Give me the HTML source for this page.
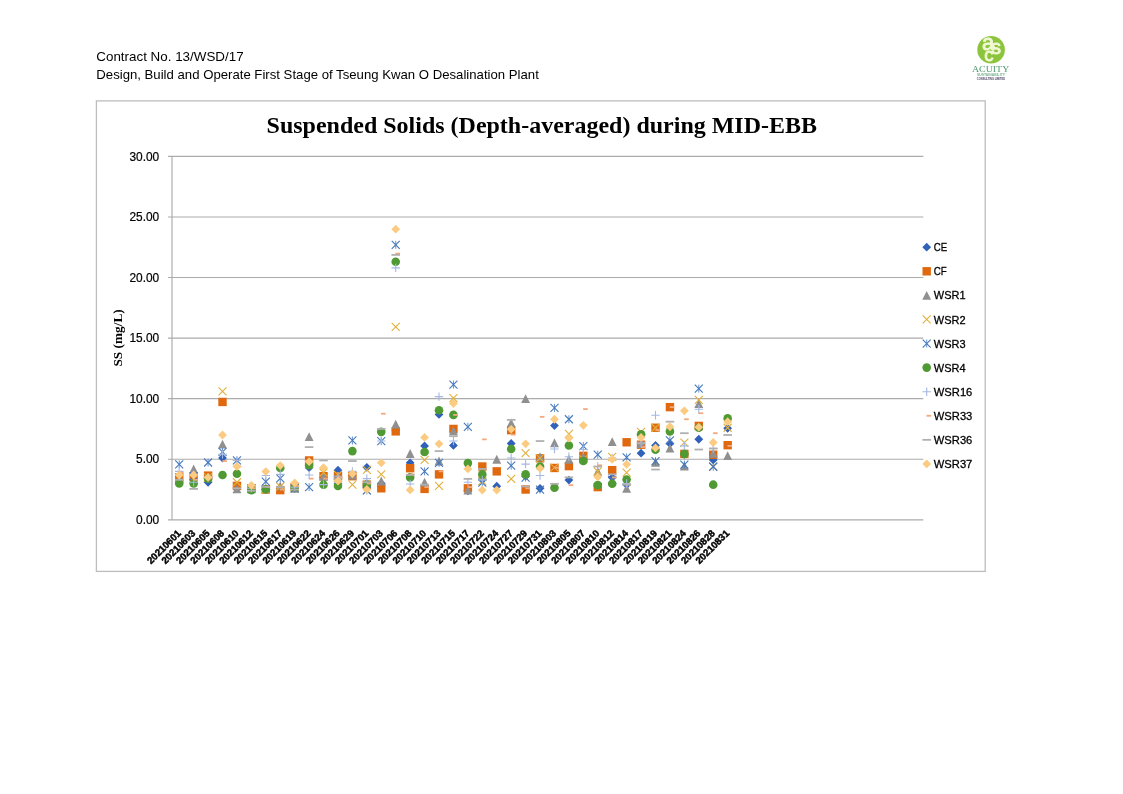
<!DOCTYPE html>
<html lang="en"><head><meta charset="utf-8"><title>Suspended Solids (Depth-averaged) during MID-EBB</title>
<style>
html,body{margin:0;padding:0;background:#fff;}
body{width:1123px;height:794px;overflow:hidden;position:relative;font-family:"Liberation Sans",sans-serif;color:#000;}
svg{position:absolute;left:0;top:0;display:block;}
.hdr{font-family:"Liberation Sans",sans-serif;font-size:12.9px;fill:#000;}
.title{font-family:"Liberation Serif",serif;font-weight:bold;font-size:24px;fill:#000;}
.ylab{font-family:"Liberation Sans",sans-serif;font-size:11.9px;fill:#000;stroke:#000;stroke-width:0.2px;text-anchor:end;}
.xlab{font-family:"Liberation Sans",sans-serif;font-size:9.7px;font-weight:bold;fill:#000;stroke:#000;stroke-width:0.45px;text-anchor:end;}
.ytitle{font-family:"Liberation Serif",serif;font-weight:bold;font-size:13.3px;fill:#000;text-anchor:middle;}
.leg{font-family:"Liberation Sans",sans-serif;font-size:11.8px;fill:#000;stroke:#000;stroke-width:0.3px;}
.logo1{font-family:"Liberation Serif",serif;font-size:9.2px;fill:#4f9a6a;text-anchor:middle;}
.logo2{font-family:"Liberation Sans",sans-serif;font-size:2.8px;font-weight:bold;text-anchor:middle;}
.logoc{font-family:"Liberation Sans",sans-serif;fill:#f1f8d4;stroke:#f1f8d4;stroke-width:0.9px;stroke-linejoin:round;text-anchor:middle;}
</style></head><body>
<svg width="1123" height="794" viewBox="0 0 1123 794">
<rect x="0" y="0" width="1123" height="794" fill="#ffffff"/>
<text class="hdr" x="96.3" y="60.8" textLength="147.3" lengthAdjust="spacingAndGlyphs">Contract No. 13/WSD/17</text>
<text class="hdr" x="96.3" y="79" textLength="442.5" lengthAdjust="spacingAndGlyphs">Design, Build and Operate First Stage of Tseung Kwan O Desalination Plant</text>
<g id="logo">
<circle cx="991.1" cy="49.7" r="13.8" fill="#8cc43c"/>
<text class="logoc" x="988" y="50.2" font-size="22">a</text>
<text class="logoc" x="996" y="54.3" font-size="19.5">s</text>
<text class="logoc" x="988.8" y="61.3" font-size="18.5">c</text>
<text class="logo1" x="990.6" y="72.3" textLength="37.4" lengthAdjust="spacingAndGlyphs">ACUITY</text>
<text class="logo2" x="991" y="75.7" textLength="28" lengthAdjust="spacingAndGlyphs" fill="#7ab394">SUSTAINABILITY</text>
<text class="logo2" x="991" y="79.5" textLength="28.4" lengthAdjust="spacingAndGlyphs" fill="#4d4566">CONSULTING LIMITED</text>
</g>
<rect x="96.4" y="100.9" width="888.8" height="470.5" fill="#fff" stroke="#bdbdbd" stroke-width="1.3"/>
<text class="title" x="266.6" y="132.6" textLength="550.4" lengthAdjust="spacingAndGlyphs">Suspended Solids (Depth-averaged) during MID-EBB</text>
<g stroke="#ababab" stroke-width="1.15" fill="none">
<path d="M168 519.8H923.3"/><path d="M168 459.23H923.3"/><path d="M168 398.67H923.3"/><path d="M168 338.1H923.3"/><path d="M168 277.54H923.3"/><path d="M168 216.97H923.3"/><path d="M168 156.41H923.3"/><path d="M172 156.41V519.8"/>
</g>
<g class="ylab"><text x="159.2" y="524">0.00</text><text x="159.2" y="463.43">5.00</text><text x="159.2" y="402.87">10.00</text><text x="159.2" y="342.3">15.00</text><text x="159.2" y="281.74">20.00</text><text x="159.2" y="221.17">25.00</text><text x="159.2" y="160.61">30.00</text></g>
<text class="ytitle" transform="translate(121.6 337.9) rotate(-90)">SS (mg/L)</text>
<g class="xlab"><text transform="translate(181.52 534) rotate(-45)">20210601</text><text transform="translate(195.95 534) rotate(-45)">20210603</text><text transform="translate(210.38 534) rotate(-45)">20210605</text><text transform="translate(224.81 534) rotate(-45)">20210608</text><text transform="translate(239.25 534) rotate(-45)">20210610</text><text transform="translate(253.68 534) rotate(-45)">20210612</text><text transform="translate(268.11 534) rotate(-45)">20210615</text><text transform="translate(282.55 534) rotate(-45)">20210617</text><text transform="translate(296.98 534) rotate(-45)">20210619</text><text transform="translate(311.41 534) rotate(-45)">20210622</text><text transform="translate(325.84 534) rotate(-45)">20210624</text><text transform="translate(340.28 534) rotate(-45)">20210626</text><text transform="translate(354.71 534) rotate(-45)">20210629</text><text transform="translate(369.14 534) rotate(-45)">20210701</text><text transform="translate(383.57 534) rotate(-45)">20210703</text><text transform="translate(398.01 534) rotate(-45)">20210706</text><text transform="translate(412.44 534) rotate(-45)">20210708</text><text transform="translate(426.87 534) rotate(-45)">20210710</text><text transform="translate(441.3 534) rotate(-45)">20210713</text><text transform="translate(455.74 534) rotate(-45)">20210715</text><text transform="translate(470.17 534) rotate(-45)">20210717</text><text transform="translate(484.6 534) rotate(-45)">20210722</text><text transform="translate(499.04 534) rotate(-45)">20210724</text><text transform="translate(513.47 534) rotate(-45)">20210727</text><text transform="translate(527.9 534) rotate(-45)">20210729</text><text transform="translate(542.33 534) rotate(-45)">20210731</text><text transform="translate(556.77 534) rotate(-45)">20210803</text><text transform="translate(571.2 534) rotate(-45)">20210805</text><text transform="translate(585.63 534) rotate(-45)">20210807</text><text transform="translate(600.06 534) rotate(-45)">20210810</text><text transform="translate(614.5 534) rotate(-45)">20210812</text><text transform="translate(628.93 534) rotate(-45)">20210814</text><text transform="translate(643.36 534) rotate(-45)">20210817</text><text transform="translate(657.8 534) rotate(-45)">20210819</text><text transform="translate(672.23 534) rotate(-45)">20210821</text><text transform="translate(686.66 534) rotate(-45)">20210824</text><text transform="translate(701.09 534) rotate(-45)">20210826</text><text transform="translate(715.53 534) rotate(-45)">20210828</text><text transform="translate(729.96 534) rotate(-45)">20210831</text></g>
<g id="pts">
<g><path d="M179.22 476.64L183.62 481.04L179.22 485.44L174.82 481.04Z" fill="#3161B8"/><path d="M193.65 475.43L198.05 479.83L193.65 484.23L189.25 479.83Z" fill="#3161B8"/><path d="M208.08 477.85L212.48 482.25L208.08 486.65L203.68 482.25Z" fill="#3161B8"/><path d="M222.51 453.62L226.91 458.02L222.51 462.42L218.11 458.02Z" fill="#3161B8"/><path d="M236.95 482.69L241.35 487.09L236.95 491.49L232.55 487.09Z" fill="#3161B8"/><path d="M251.38 485.12L255.78 489.52L251.38 493.92L246.98 489.52Z" fill="#3161B8"/><path d="M265.81 485.12L270.21 489.52L265.81 493.92L261.41 489.52Z" fill="#3161B8"/><path d="M280.25 485.12L284.65 489.52L280.25 493.92L275.85 489.52Z" fill="#3161B8"/><path d="M294.68 483.91L299.08 488.31L294.68 492.71L290.28 488.31Z" fill="#3161B8"/><path d="M309.11 463.31L313.51 467.71L309.11 472.11L304.71 467.71Z" fill="#3161B8"/><path d="M323.54 473L327.94 477.4L323.54 481.8L319.14 477.4Z" fill="#3161B8"/><path d="M337.98 465.74L342.38 470.14L337.98 474.54L333.58 470.14Z" fill="#3161B8"/><path d="M352.41 470.58L356.81 474.98L352.41 479.38L348.01 474.98Z" fill="#3161B8"/><path d="M366.84 462.95L371.24 467.35L366.84 471.75L362.44 467.35Z" fill="#3161B8"/><path d="M381.27 479.06L385.67 483.46L381.27 487.86L376.87 483.46Z" fill="#3161B8"/><path d="M395.71 425.76L400.11 430.16L395.71 434.56L391.31 430.16Z" fill="#3161B8"/><path d="M410.14 458.47L414.54 462.87L410.14 467.27L405.74 462.87Z" fill="#3161B8"/><path d="M424.57 441.51L428.97 445.91L424.57 450.31L420.17 445.91Z" fill="#3161B8"/><path d="M439 410.02L443.4 414.42L439 418.82L434.6 414.42Z" fill="#3161B8"/><path d="M453.44 441.03L457.84 445.43L453.44 449.83L449.04 445.43Z" fill="#3161B8"/><path d="M467.87 486.33L472.27 490.73L467.87 495.13L463.47 490.73Z" fill="#3161B8"/><path d="M482.3 475.43L486.7 479.83L482.3 484.23L477.9 479.83Z" fill="#3161B8"/><path d="M496.74 481.85L501.14 486.25L496.74 490.65L492.34 486.25Z" fill="#3161B8"/><path d="M511.17 439.09L515.57 443.49L511.17 447.89L506.77 443.49Z" fill="#3161B8"/><path d="M525.6 471.79L530 476.19L525.6 480.59L521.2 476.19Z" fill="#3161B8"/><path d="M540.03 483.91L544.43 488.31L540.03 492.71L535.63 488.31Z" fill="#3161B8"/><path d="M554.47 421.16L558.87 425.56L554.47 429.96L550.07 425.56Z" fill="#3161B8"/><path d="M568.9 475.67L573.3 480.07L568.9 484.47L564.5 480.07Z" fill="#3161B8"/><path d="M583.33 454.83L587.73 459.23L583.33 463.63L578.93 459.23Z" fill="#3161B8"/><path d="M597.76 481.48L602.16 485.88L597.76 490.28L593.36 485.88Z" fill="#3161B8"/><path d="M612.2 473.13L616.6 477.53L612.2 481.93L607.8 477.53Z" fill="#3161B8"/><path d="M626.63 480.27L631.03 484.67L626.63 489.07L622.23 484.67Z" fill="#3161B8"/><path d="M641.06 448.78L645.46 453.18L641.06 457.58L636.66 453.18Z" fill="#3161B8"/><path d="M655.5 441.03L659.9 445.43L655.5 449.83L651.1 445.43Z" fill="#3161B8"/><path d="M669.93 439.09L674.33 443.49L669.93 447.89L665.53 443.49Z" fill="#3161B8"/><path d="M684.36 449.99L688.76 454.39L684.36 458.79L679.96 454.39Z" fill="#3161B8"/><path d="M698.79 434.85L703.19 439.25L698.79 443.65L694.39 439.25Z" fill="#3161B8"/><path d="M713.23 455.56L717.63 459.96L713.23 464.36L708.83 459.96Z" fill="#3161B8"/><path d="M727.66 423.83L732.06 428.23L727.66 432.63L723.26 428.23Z" fill="#3161B8"/></g>
<g><rect x="175.02" y="473.2" width="8.4" height="8.4" fill="#E0690F"/><rect x="189.45" y="472.6" width="8.4" height="8.4" fill="#E0690F"/><rect x="203.88" y="471.39" width="8.4" height="8.4" fill="#E0690F"/><rect x="218.31" y="397.74" width="8.4" height="8.4" fill="#E0690F"/><rect x="232.75" y="481.68" width="8.4" height="8.4" fill="#E0690F"/><rect x="247.18" y="484.11" width="8.4" height="8.4" fill="#E0690F"/><rect x="261.61" y="485.32" width="8.4" height="8.4" fill="#E0690F"/><rect x="276.05" y="485.92" width="8.4" height="8.4" fill="#E0690F"/><rect x="290.48" y="482.89" width="8.4" height="8.4" fill="#E0690F"/><rect x="304.91" y="456.25" width="8.4" height="8.4" fill="#E0690F"/><rect x="319.34" y="471.99" width="8.4" height="8.4" fill="#E0690F"/><rect x="333.78" y="471.99" width="8.4" height="8.4" fill="#E0690F"/><rect x="348.21" y="471.99" width="8.4" height="8.4" fill="#E0690F"/><rect x="362.64" y="480.47" width="8.4" height="8.4" fill="#E0690F"/><rect x="377.07" y="484.11" width="8.4" height="8.4" fill="#E0690F"/><rect x="391.51" y="427.18" width="8.4" height="8.4" fill="#E0690F"/><rect x="405.94" y="464" width="8.4" height="8.4" fill="#E0690F"/><rect x="420.37" y="484.71" width="8.4" height="8.4" fill="#E0690F"/><rect x="434.8" y="470.18" width="8.4" height="8.4" fill="#E0690F"/><rect x="449.24" y="424.75" width="8.4" height="8.4" fill="#E0690F"/><rect x="463.67" y="484.11" width="8.4" height="8.4" fill="#E0690F"/><rect x="478.1" y="462.3" width="8.4" height="8.4" fill="#E0690F"/><rect x="492.54" y="467.15" width="8.4" height="8.4" fill="#E0690F"/><rect x="506.97" y="425.96" width="8.4" height="8.4" fill="#E0690F"/><rect x="521.4" y="485.32" width="8.4" height="8.4" fill="#E0690F"/><rect x="535.83" y="454.07" width="8.4" height="8.4" fill="#E0690F"/><rect x="550.27" y="463.76" width="8.4" height="8.4" fill="#E0690F"/><rect x="564.7" y="461.94" width="8.4" height="8.4" fill="#E0690F"/><rect x="579.13" y="451.64" width="8.4" height="8.4" fill="#E0690F"/><rect x="593.56" y="482.89" width="8.4" height="8.4" fill="#E0690F"/><rect x="608" y="465.94" width="8.4" height="8.4" fill="#E0690F"/><rect x="622.43" y="438.08" width="8.4" height="8.4" fill="#E0690F"/><rect x="636.86" y="440.5" width="8.4" height="8.4" fill="#E0690F"/><rect x="651.3" y="423.54" width="8.4" height="8.4" fill="#E0690F"/><rect x="665.73" y="402.95" width="8.4" height="8.4" fill="#E0690F"/><rect x="680.16" y="449.71" width="8.4" height="8.4" fill="#E0690F"/><rect x="694.59" y="421.72" width="8.4" height="8.4" fill="#E0690F"/><rect x="709.03" y="450.55" width="8.4" height="8.4" fill="#E0690F"/><rect x="723.46" y="440.98" width="8.4" height="8.4" fill="#E0690F"/></g>
<g><path d="M179.22 474.17L183.67 483.07L174.77 483.07Z" fill="#909090"/><path d="M193.65 464.48L198.1 473.38L189.2 473.38Z" fill="#909090"/><path d="M208.08 472.95L212.53 481.85L203.63 481.85Z" fill="#909090"/><path d="M222.51 439.64L226.96 448.54L218.06 448.54Z" fill="#909090"/><path d="M236.95 484.46L241.4 493.36L232.5 493.36Z" fill="#909090"/><path d="M251.38 484.46L255.83 493.36L246.93 493.36Z" fill="#909090"/><path d="M265.81 484.46L270.26 493.36L261.36 493.36Z" fill="#909090"/><path d="M280.25 481.43L284.7 490.33L275.8 490.33Z" fill="#909090"/><path d="M294.68 483.86L299.13 492.76L290.23 492.76Z" fill="#909090"/><path d="M309.11 432.13L313.56 441.03L304.66 441.03Z" fill="#909090"/><path d="M323.54 471.74L327.99 480.64L319.09 480.64Z" fill="#909090"/><path d="M337.98 472.95L342.43 481.85L333.53 481.85Z" fill="#909090"/><path d="M352.41 470.53L356.86 479.43L347.96 479.43Z" fill="#909090"/><path d="M366.84 479.01L371.29 487.91L362.39 487.91Z" fill="#909090"/><path d="M381.27 476.59L385.72 485.49L376.82 485.49Z" fill="#909090"/><path d="M395.71 419.66L400.16 428.56L391.26 428.56Z" fill="#909090"/><path d="M410.14 449.09L414.59 457.99L405.69 457.99Z" fill="#909090"/><path d="M424.57 477.8L429.02 486.7L420.12 486.7Z" fill="#909090"/><path d="M439 456.6L443.45 465.5L434.55 465.5Z" fill="#909090"/><path d="M453.44 426.32L457.89 435.22L448.99 435.22Z" fill="#909090"/><path d="M467.87 485.67L472.32 494.57L463.42 494.57Z" fill="#909090"/><path d="M482.3 471.74L486.75 480.64L477.85 480.64Z" fill="#909090"/><path d="M496.74 454.78L501.19 463.68L492.29 463.68Z" fill="#909090"/><path d="M511.17 418.45L515.62 427.35L506.72 427.35Z" fill="#909090"/><path d="M525.6 394.22L530.05 403.12L521.15 403.12Z" fill="#909090"/><path d="M540.03 452.36L544.48 461.26L535.58 461.26Z" fill="#909090"/><path d="M554.47 438.31L558.92 447.21L550.02 447.21Z" fill="#909090"/><path d="M568.9 454.78L573.35 463.68L564.45 463.68Z" fill="#909090"/><path d="M583.33 452.36L587.78 461.26L578.88 461.26Z" fill="#909090"/><path d="M597.76 466.9L602.21 475.8L593.31 475.8Z" fill="#909090"/><path d="M612.2 437.22L616.65 446.12L607.75 446.12Z" fill="#909090"/><path d="M626.63 483.86L631.08 492.76L622.18 492.76Z" fill="#909090"/><path d="M641.06 439.04L645.51 447.94L636.61 447.94Z" fill="#909090"/><path d="M655.5 457.81L659.95 466.71L651.05 466.71Z" fill="#909090"/><path d="M669.93 443.64L674.38 452.54L665.48 452.54Z" fill="#909090"/><path d="M684.36 461.57L688.81 470.47L679.91 470.47Z" fill="#909090"/><path d="M698.79 399.07L703.24 407.97L694.34 407.97Z" fill="#909090"/><path d="M713.23 448.73L717.68 457.63L708.78 457.63Z" fill="#909090"/><path d="M727.66 451.15L732.11 460.05L723.21 460.05Z" fill="#909090"/></g>
<g><path d="M175.22 474.62L183.22 482.62M175.22 482.62L183.22 474.62" stroke="#E2B03A" stroke-width="1.1" fill="none"/><path d="M189.65 474.62L197.65 482.62M189.65 482.62L197.65 474.62" stroke="#E2B03A" stroke-width="1.1" fill="none"/><path d="M204.08 473.4L212.08 481.4M204.08 481.4L212.08 473.4" stroke="#E2B03A" stroke-width="1.1" fill="none"/><path d="M218.51 387.4L226.51 395.4M218.51 395.4L226.51 387.4" stroke="#E2B03A" stroke-width="1.1" fill="none"/><path d="M232.95 478.25L240.95 486.25M232.95 486.25L240.95 478.25" stroke="#E2B03A" stroke-width="1.1" fill="none"/><path d="M247.38 484.31L255.38 492.31M247.38 492.31L255.38 484.31" stroke="#E2B03A" stroke-width="1.1" fill="none"/><path d="M261.81 485.52L269.81 493.52M261.81 493.52L269.81 485.52" stroke="#E2B03A" stroke-width="1.1" fill="none"/><path d="M276.25 482.49L284.25 490.49M276.25 490.49L284.25 482.49" stroke="#E2B03A" stroke-width="1.1" fill="none"/><path d="M290.68 483.09L298.68 491.09M290.68 491.09L298.68 483.09" stroke="#E2B03A" stroke-width="1.1" fill="none"/><path d="M305.11 460.08L313.11 468.08M305.11 468.08L313.11 460.08" stroke="#E2B03A" stroke-width="1.1" fill="none"/><path d="M319.54 468.56L327.54 476.56M319.54 476.56L327.54 468.56" stroke="#E2B03A" stroke-width="1.1" fill="none"/><path d="M333.98 470.98L341.98 478.98M333.98 478.98L341.98 470.98" stroke="#E2B03A" stroke-width="1.1" fill="none"/><path d="M348.41 480.67L356.41 488.67M348.41 488.67L356.41 480.67" stroke="#E2B03A" stroke-width="1.1" fill="none"/><path d="M362.84 465.89L370.84 473.89M362.84 473.89L370.84 465.89" stroke="#E2B03A" stroke-width="1.1" fill="none"/><path d="M377.27 470.38L385.27 478.38M377.27 478.38L385.27 470.38" stroke="#E2B03A" stroke-width="1.1" fill="none"/><path d="M391.71 322.96L399.71 330.96M391.71 330.96L399.71 322.96" stroke="#E2B03A" stroke-width="1.1" fill="none"/><path d="M420.57 455.84L428.57 463.84M420.57 463.84L428.57 455.84" stroke="#E2B03A" stroke-width="1.1" fill="none"/><path d="M435 481.88L443 489.88M435 489.88L443 481.88" stroke="#E2B03A" stroke-width="1.1" fill="none"/><path d="M449.44 394.06L457.44 402.06M449.44 402.06L457.44 394.06" stroke="#E2B03A" stroke-width="1.1" fill="none"/><path d="M478.3 477.04L486.3 485.04M478.3 485.04L486.3 477.04" stroke="#E2B03A" stroke-width="1.1" fill="none"/><path d="M507.17 474.98L515.17 482.98M507.17 482.98L515.17 474.98" stroke="#E2B03A" stroke-width="1.1" fill="none"/><path d="M521.6 449.18L529.6 457.18M521.6 457.18L529.6 449.18" stroke="#E2B03A" stroke-width="1.1" fill="none"/><path d="M536.03 454.02L544.03 462.02M536.03 462.02L544.03 454.02" stroke="#E2B03A" stroke-width="1.1" fill="none"/><path d="M550.47 463.71L558.47 471.71M550.47 471.71L558.47 463.71" stroke="#E2B03A" stroke-width="1.1" fill="none"/><path d="M564.9 429.8L572.9 437.8M564.9 437.8L572.9 429.8" stroke="#E2B03A" stroke-width="1.1" fill="none"/><path d="M579.33 455.23L587.33 463.23M579.33 463.23L587.33 455.23" stroke="#E2B03A" stroke-width="1.1" fill="none"/><path d="M593.76 467.35L601.76 475.35M593.76 475.35L601.76 467.35" stroke="#E2B03A" stroke-width="1.1" fill="none"/><path d="M608.2 452.81L616.2 460.81M608.2 460.81L616.2 452.81" stroke="#E2B03A" stroke-width="1.1" fill="none"/><path d="M622.63 468.56L630.63 476.56M622.63 476.56L630.63 468.56" stroke="#E2B03A" stroke-width="1.1" fill="none"/><path d="M637.06 427.98L645.06 435.98M637.06 435.98L645.06 427.98" stroke="#E2B03A" stroke-width="1.1" fill="none"/><path d="M651.5 423.74L659.5 431.74M651.5 431.74L659.5 423.74" stroke="#E2B03A" stroke-width="1.1" fill="none"/><path d="M680.36 438.52L688.36 446.52M680.36 446.52L688.36 438.52" stroke="#E2B03A" stroke-width="1.1" fill="none"/><path d="M694.79 395.88L702.79 403.88M694.79 403.88L702.79 395.88" stroke="#E2B03A" stroke-width="1.1" fill="none"/><path d="M709.23 462.5L717.23 470.5M709.23 470.5L717.23 462.5" stroke="#E2B03A" stroke-width="1.1" fill="none"/><path d="M723.66 423.74L731.66 431.74M723.66 431.74L731.66 423.74" stroke="#E2B03A" stroke-width="1.1" fill="none"/></g>
<g><path d="M175.22 460.32L183.22 468.32M175.22 468.32L183.22 460.32" stroke="#4478BE" stroke-width="1.1" fill="none"/><path d="M179.22 460.32V468.32" stroke="#4478BE" stroke-width="0.8" fill="none"/><path d="M189.65 472.19L197.65 480.19M189.65 480.19L197.65 472.19" stroke="#4478BE" stroke-width="1.1" fill="none"/><path d="M193.65 472.19V480.19" stroke="#4478BE" stroke-width="0.8" fill="none"/><path d="M204.08 458.51L212.08 466.51M204.08 466.51L212.08 458.51" stroke="#4478BE" stroke-width="1.1" fill="none"/><path d="M208.08 458.51V466.51" stroke="#4478BE" stroke-width="0.8" fill="none"/><path d="M218.51 447.97L226.51 455.97M218.51 455.97L226.51 447.97" stroke="#4478BE" stroke-width="1.1" fill="none"/><path d="M222.51 447.97V455.97" stroke="#4478BE" stroke-width="0.8" fill="none"/><path d="M232.95 456.45L240.95 464.45M232.95 464.45L240.95 456.45" stroke="#4478BE" stroke-width="1.1" fill="none"/><path d="M236.95 456.45V464.45" stroke="#4478BE" stroke-width="0.8" fill="none"/><path d="M247.38 484.31L255.38 492.31M247.38 492.31L255.38 484.31" stroke="#4478BE" stroke-width="1.1" fill="none"/><path d="M251.38 484.31V492.31" stroke="#4478BE" stroke-width="0.8" fill="none"/><path d="M261.81 477.52L269.81 485.52M261.81 485.52L269.81 477.52" stroke="#4478BE" stroke-width="1.1" fill="none"/><path d="M265.81 477.52V485.52" stroke="#4478BE" stroke-width="0.8" fill="none"/><path d="M276.25 474.37L284.25 482.37M276.25 482.37L284.25 474.37" stroke="#4478BE" stroke-width="1.1" fill="none"/><path d="M280.25 474.37V482.37" stroke="#4478BE" stroke-width="0.8" fill="none"/><path d="M290.68 484.31L298.68 492.31M290.68 492.31L298.68 484.31" stroke="#4478BE" stroke-width="1.1" fill="none"/><path d="M294.68 484.31V492.31" stroke="#4478BE" stroke-width="0.8" fill="none"/><path d="M305.11 483.09L313.11 491.09M305.11 491.09L313.11 483.09" stroke="#4478BE" stroke-width="1.1" fill="none"/><path d="M309.11 483.09V491.09" stroke="#4478BE" stroke-width="0.8" fill="none"/><path d="M333.98 475.83L341.98 483.83M333.98 483.83L341.98 475.83" stroke="#4478BE" stroke-width="1.1" fill="none"/><path d="M337.98 475.83V483.83" stroke="#4478BE" stroke-width="0.8" fill="none"/><path d="M348.41 436.46L356.41 444.46M348.41 444.46L356.41 436.46" stroke="#4478BE" stroke-width="1.1" fill="none"/><path d="M352.41 436.46V444.46" stroke="#4478BE" stroke-width="0.8" fill="none"/><path d="M362.84 486.49L370.84 494.49M362.84 494.49L370.84 486.49" stroke="#4478BE" stroke-width="1.1" fill="none"/><path d="M366.84 486.49V494.49" stroke="#4478BE" stroke-width="0.8" fill="none"/><path d="M377.27 437.07L385.27 445.07M377.27 445.07L385.27 437.07" stroke="#4478BE" stroke-width="1.1" fill="none"/><path d="M381.27 437.07V445.07" stroke="#4478BE" stroke-width="0.8" fill="none"/><path d="M391.71 240.83L399.71 248.83M391.71 248.83L399.71 240.83" stroke="#4478BE" stroke-width="1.1" fill="none"/><path d="M395.71 240.83V248.83" stroke="#4478BE" stroke-width="0.8" fill="none"/><path d="M420.57 467.35L428.57 475.35M420.57 475.35L428.57 467.35" stroke="#4478BE" stroke-width="1.1" fill="none"/><path d="M424.57 467.35V475.35" stroke="#4478BE" stroke-width="0.8" fill="none"/><path d="M435 458.87L443 466.87M435 466.87L443 458.87" stroke="#4478BE" stroke-width="1.1" fill="none"/><path d="M439 458.87V466.87" stroke="#4478BE" stroke-width="0.8" fill="none"/><path d="M449.44 380.62L457.44 388.62M449.44 388.62L457.44 380.62" stroke="#4478BE" stroke-width="1.1" fill="none"/><path d="M453.44 380.62V388.62" stroke="#4478BE" stroke-width="0.8" fill="none"/><path d="M463.87 422.77L471.87 430.77M463.87 430.77L471.87 422.77" stroke="#4478BE" stroke-width="1.1" fill="none"/><path d="M467.87 422.77V430.77" stroke="#4478BE" stroke-width="0.8" fill="none"/><path d="M478.3 478.61L486.3 486.61M478.3 486.61L486.3 478.61" stroke="#4478BE" stroke-width="1.1" fill="none"/><path d="M482.3 478.61V486.61" stroke="#4478BE" stroke-width="0.8" fill="none"/><path d="M507.17 461.65L515.17 469.65M507.17 469.65L515.17 461.65" stroke="#4478BE" stroke-width="1.1" fill="none"/><path d="M511.17 461.65V469.65" stroke="#4478BE" stroke-width="0.8" fill="none"/><path d="M521.6 473.53L529.6 481.53M521.6 481.53L529.6 473.53" stroke="#4478BE" stroke-width="1.1" fill="none"/><path d="M525.6 473.53V481.53" stroke="#4478BE" stroke-width="0.8" fill="none"/><path d="M536.03 485.52L544.03 493.52M536.03 493.52L544.03 485.52" stroke="#4478BE" stroke-width="1.1" fill="none"/><path d="M540.03 485.52V493.52" stroke="#4478BE" stroke-width="0.8" fill="none"/><path d="M550.47 403.88L558.47 411.88M550.47 411.88L558.47 403.88" stroke="#4478BE" stroke-width="1.1" fill="none"/><path d="M554.47 403.88V411.88" stroke="#4478BE" stroke-width="0.8" fill="none"/><path d="M564.9 415.26L572.9 423.26M564.9 423.26L572.9 415.26" stroke="#4478BE" stroke-width="1.1" fill="none"/><path d="M568.9 415.26V423.26" stroke="#4478BE" stroke-width="0.8" fill="none"/><path d="M579.33 442.15L587.33 450.15M579.33 450.15L587.33 442.15" stroke="#4478BE" stroke-width="1.1" fill="none"/><path d="M583.33 442.15V450.15" stroke="#4478BE" stroke-width="0.8" fill="none"/><path d="M593.76 450.63L601.76 458.63M593.76 458.63L601.76 450.63" stroke="#4478BE" stroke-width="1.1" fill="none"/><path d="M597.76 450.63V458.63" stroke="#4478BE" stroke-width="0.8" fill="none"/><path d="M608.2 475.83L616.2 483.83M608.2 483.83L616.2 475.83" stroke="#4478BE" stroke-width="1.1" fill="none"/><path d="M612.2 475.83V483.83" stroke="#4478BE" stroke-width="0.8" fill="none"/><path d="M622.63 453.42L630.63 461.42M622.63 461.42L630.63 453.42" stroke="#4478BE" stroke-width="1.1" fill="none"/><path d="M626.63 453.42V461.42" stroke="#4478BE" stroke-width="0.8" fill="none"/><path d="M651.5 457.05L659.5 465.05M651.5 465.05L659.5 457.05" stroke="#4478BE" stroke-width="1.1" fill="none"/><path d="M655.5 457.05V465.05" stroke="#4478BE" stroke-width="0.8" fill="none"/><path d="M665.93 436.34L673.93 444.34M665.93 444.34L673.93 436.34" stroke="#4478BE" stroke-width="1.1" fill="none"/><path d="M669.93 436.34V444.34" stroke="#4478BE" stroke-width="0.8" fill="none"/><path d="M680.36 460.56L688.36 468.56M680.36 468.56L688.36 460.56" stroke="#4478BE" stroke-width="1.1" fill="none"/><path d="M684.36 460.56V468.56" stroke="#4478BE" stroke-width="0.8" fill="none"/><path d="M694.79 384.62L702.79 392.62M694.79 392.62L702.79 384.62" stroke="#4478BE" stroke-width="1.1" fill="none"/><path d="M698.79 384.62V392.62" stroke="#4478BE" stroke-width="0.8" fill="none"/><path d="M709.23 462.75L717.23 470.75M709.23 470.75L717.23 462.75" stroke="#4478BE" stroke-width="1.1" fill="none"/><path d="M713.23 462.75V470.75" stroke="#4478BE" stroke-width="0.8" fill="none"/></g>
<g><circle cx="179.22" cy="483.46" r="4.3" fill="#4F9A32"/><circle cx="193.65" cy="483.46" r="4.3" fill="#4F9A32"/><circle cx="208.08" cy="478.62" r="4.3" fill="#4F9A32"/><circle cx="222.51" cy="474.98" r="4.3" fill="#4F9A32"/><circle cx="236.95" cy="473.77" r="4.3" fill="#4F9A32"/><circle cx="251.38" cy="490.12" r="4.3" fill="#4F9A32"/><circle cx="265.81" cy="489.28" r="4.3" fill="#4F9A32"/><circle cx="280.25" cy="468.08" r="4.3" fill="#4F9A32"/><circle cx="294.68" cy="487.09" r="4.3" fill="#4F9A32"/><circle cx="309.11" cy="465.29" r="4.3" fill="#4F9A32"/><circle cx="323.54" cy="484.67" r="4.3" fill="#4F9A32"/><circle cx="337.98" cy="485.88" r="4.3" fill="#4F9A32"/><circle cx="352.41" cy="451.12" r="4.3" fill="#4F9A32"/><circle cx="366.84" cy="484.67" r="4.3" fill="#4F9A32"/><circle cx="381.27" cy="431.86" r="4.3" fill="#4F9A32"/><circle cx="395.71" cy="261.79" r="4.3" fill="#4F9A32"/><circle cx="410.14" cy="477.4" r="4.3" fill="#4F9A32"/><circle cx="424.57" cy="451.97" r="4.3" fill="#4F9A32"/><circle cx="439" cy="410.18" r="4.3" fill="#4F9A32"/><circle cx="453.44" cy="414.9" r="4.3" fill="#4F9A32"/><circle cx="467.87" cy="463.11" r="4.3" fill="#4F9A32"/><circle cx="482.3" cy="474.38" r="4.3" fill="#4F9A32"/><circle cx="511.17" cy="448.94" r="4.3" fill="#4F9A32"/><circle cx="525.6" cy="474.38" r="4.3" fill="#4F9A32"/><circle cx="540.03" cy="466.5" r="4.3" fill="#4F9A32"/><circle cx="554.47" cy="487.7" r="4.3" fill="#4F9A32"/><circle cx="568.9" cy="445.43" r="4.3" fill="#4F9A32"/><circle cx="583.33" cy="460.93" r="4.3" fill="#4F9A32"/><circle cx="597.76" cy="485.16" r="4.3" fill="#4F9A32"/><circle cx="612.2" cy="483.82" r="4.3" fill="#4F9A32"/><circle cx="626.63" cy="479.46" r="4.3" fill="#4F9A32"/><circle cx="641.06" cy="434.28" r="4.3" fill="#4F9A32"/><circle cx="655.5" cy="449.79" r="4.3" fill="#4F9A32"/><circle cx="669.93" cy="431.38" r="4.3" fill="#4F9A32"/><circle cx="684.36" cy="453.91" r="4.3" fill="#4F9A32"/><circle cx="698.79" cy="427.74" r="4.3" fill="#4F9A32"/><circle cx="713.23" cy="484.67" r="4.3" fill="#4F9A32"/><circle cx="727.66" cy="418.41" r="4.3" fill="#4F9A32"/></g>
<g><path d="M175.02 471.35L183.42 471.35M179.22 467.15L179.22 475.55" stroke="#A4B8E2" stroke-width="1.1" fill="none"/><path d="M189.45 482.25L197.85 482.25M193.65 478.05L193.65 486.45" stroke="#A4B8E2" stroke-width="1.1" fill="none"/><path d="M203.88 477.4L212.28 477.4M208.08 473.2L208.08 481.6" stroke="#A4B8E2" stroke-width="1.1" fill="none"/><path d="M218.31 454.39L226.71 454.39M222.51 450.19L222.51 458.59" stroke="#A4B8E2" stroke-width="1.1" fill="none"/><path d="M232.75 460.45L241.15 460.45M236.95 456.25L236.95 464.65" stroke="#A4B8E2" stroke-width="1.1" fill="none"/><path d="M247.18 488.31L255.58 488.31M251.38 484.11L251.38 492.51" stroke="#A4B8E2" stroke-width="1.1" fill="none"/><path d="M261.61 475.47L270.01 475.47M265.81 471.27L265.81 479.67" stroke="#A4B8E2" stroke-width="1.1" fill="none"/><path d="M276.05 474.38L284.45 474.38M280.25 470.18L280.25 478.58" stroke="#A4B8E2" stroke-width="1.1" fill="none"/><path d="M290.48 487.09L298.88 487.09M294.68 482.89L294.68 491.29" stroke="#A4B8E2" stroke-width="1.1" fill="none"/><path d="M304.91 474.98L313.31 474.98M309.11 470.78L309.11 479.18" stroke="#A4B8E2" stroke-width="1.1" fill="none"/><path d="M319.34 484.67L327.74 484.67M323.54 480.47L323.54 488.87" stroke="#A4B8E2" stroke-width="1.1" fill="none"/><path d="M333.78 476.19L342.18 476.19M337.98 471.99L337.98 480.39" stroke="#A4B8E2" stroke-width="1.1" fill="none"/><path d="M348.21 471.35L356.61 471.35M352.41 467.15L352.41 475.55" stroke="#A4B8E2" stroke-width="1.1" fill="none"/><path d="M362.64 478.62L371.04 478.62M366.84 474.42L366.84 482.82" stroke="#A4B8E2" stroke-width="1.1" fill="none"/><path d="M377.07 441.07L385.47 441.07M381.27 436.87L381.27 445.27" stroke="#A4B8E2" stroke-width="1.1" fill="none"/><path d="M391.51 267.85L399.91 267.85M395.71 263.65L395.71 272.05" stroke="#A4B8E2" stroke-width="1.1" fill="none"/><path d="M405.94 484.07L414.34 484.07M410.14 479.87L410.14 488.27" stroke="#A4B8E2" stroke-width="1.1" fill="none"/><path d="M434.8 396.61L443.2 396.61M439 392.41L439 400.81" stroke="#A4B8E2" stroke-width="1.1" fill="none"/><path d="M449.24 441.07L457.64 441.07M453.44 436.87L453.44 445.27" stroke="#A4B8E2" stroke-width="1.1" fill="none"/><path d="M463.67 482.25L472.07 482.25M467.87 478.05L467.87 486.45" stroke="#A4B8E2" stroke-width="1.1" fill="none"/><path d="M478.1 479.83L486.5 479.83M482.3 475.63L482.3 484.03" stroke="#A4B8E2" stroke-width="1.1" fill="none"/><path d="M506.97 458.02L515.37 458.02M511.17 453.82L511.17 462.22" stroke="#A4B8E2" stroke-width="1.1" fill="none"/><path d="M521.4 464.08L529.8 464.08M525.6 459.88L525.6 468.28" stroke="#A4B8E2" stroke-width="1.1" fill="none"/><path d="M535.83 475.47L544.23 475.47M540.03 471.27L540.03 479.67" stroke="#A4B8E2" stroke-width="1.1" fill="none"/><path d="M550.27 448.94L558.67 448.94M554.47 444.74L554.47 453.14" stroke="#A4B8E2" stroke-width="1.1" fill="none"/><path d="M564.7 456.81L573.1 456.81M568.9 452.61L568.9 461.01" stroke="#A4B8E2" stroke-width="1.1" fill="none"/><path d="M579.13 449.54L587.53 449.54M583.33 445.34L583.33 453.74" stroke="#A4B8E2" stroke-width="1.1" fill="none"/><path d="M593.56 466.5L601.96 466.5M597.76 462.3L597.76 470.7" stroke="#A4B8E2" stroke-width="1.1" fill="none"/><path d="M608 458.02L616.4 458.02M612.2 453.82L612.2 462.22" stroke="#A4B8E2" stroke-width="1.1" fill="none"/><path d="M622.43 483.46L630.83 483.46M626.63 479.26L626.63 487.66" stroke="#A4B8E2" stroke-width="1.1" fill="none"/><path d="M636.86 442.28L645.26 442.28M641.06 438.08L641.06 446.48" stroke="#A4B8E2" stroke-width="1.1" fill="none"/><path d="M651.3 415.26L659.7 415.26M655.5 411.06L655.5 419.46" stroke="#A4B8E2" stroke-width="1.1" fill="none"/><path d="M680.16 445.91L688.56 445.91M684.36 441.71L684.36 450.11" stroke="#A4B8E2" stroke-width="1.1" fill="none"/><path d="M694.59 409.21L702.99 409.21M698.79 405.01L698.79 413.41" stroke="#A4B8E2" stroke-width="1.1" fill="none"/><path d="M709.03 448.33L717.43 448.33M713.23 444.13L713.23 452.53" stroke="#A4B8E2" stroke-width="1.1" fill="none"/></g>
<g><rect x="179.02" y="471.66" width="4.6" height="1.8" fill="#F3A97E"/><rect x="193.45" y="478.93" width="4.6" height="1.8" fill="#F3A97E"/><rect x="207.88" y="476.5" width="4.6" height="1.8" fill="#F3A97E"/><rect x="222.31" y="460.15" width="4.6" height="1.8" fill="#F3A97E"/><rect x="236.75" y="465.6" width="4.6" height="1.8" fill="#F3A97E"/><rect x="251.18" y="487.41" width="4.6" height="1.8" fill="#F3A97E"/><rect x="265.61" y="485.95" width="4.6" height="1.8" fill="#F3A97E"/><rect x="280.05" y="488.62" width="4.6" height="1.8" fill="#F3A97E"/><rect x="294.48" y="484.98" width="4.6" height="1.8" fill="#F3A97E"/><rect x="308.91" y="477.72" width="4.6" height="1.8" fill="#F3A97E"/><rect x="323.34" y="477.72" width="4.6" height="1.8" fill="#F3A97E"/><rect x="337.78" y="476.5" width="4.6" height="1.8" fill="#F3A97E"/><rect x="352.21" y="472.87" width="4.6" height="1.8" fill="#F3A97E"/><rect x="366.64" y="482.56" width="4.6" height="1.8" fill="#F3A97E"/><rect x="381.07" y="412.79" width="4.6" height="1.8" fill="#F3A97E"/><rect x="395.51" y="252.66" width="4.6" height="1.8" fill="#F3A97E"/><rect x="409.94" y="473.48" width="4.6" height="1.8" fill="#F3A97E"/><rect x="424.37" y="486.19" width="4.6" height="1.8" fill="#F3A97E"/><rect x="438.8" y="470.45" width="4.6" height="1.8" fill="#F3A97E"/><rect x="453.24" y="414" width="4.6" height="1.8" fill="#F3A97E"/><rect x="467.67" y="486.19" width="4.6" height="1.8" fill="#F3A97E"/><rect x="482.1" y="438.47" width="4.6" height="1.8" fill="#F3A97E"/><rect x="510.97" y="433.75" width="4.6" height="1.8" fill="#F3A97E"/><rect x="525.4" y="487.41" width="4.6" height="1.8" fill="#F3A97E"/><rect x="539.83" y="415.94" width="4.6" height="1.8" fill="#F3A97E"/><rect x="554.27" y="466.81" width="4.6" height="1.8" fill="#F3A97E"/><rect x="568.7" y="484.26" width="4.6" height="1.8" fill="#F3A97E"/><rect x="583.13" y="408.19" width="4.6" height="1.8" fill="#F3A97E"/><rect x="597.56" y="464.39" width="4.6" height="1.8" fill="#F3A97E"/><rect x="612" y="476.5" width="4.6" height="1.8" fill="#F3A97E"/><rect x="626.43" y="483.77" width="4.6" height="1.8" fill="#F3A97E"/><rect x="640.86" y="446.22" width="4.6" height="1.8" fill="#F3A97E"/><rect x="655.3" y="429.26" width="4.6" height="1.8" fill="#F3A97E"/><rect x="669.73" y="406.25" width="4.6" height="1.8" fill="#F3A97E"/><rect x="684.16" y="418.36" width="4.6" height="1.8" fill="#F3A97E"/><rect x="698.59" y="412.31" width="4.6" height="1.8" fill="#F3A97E"/><rect x="713.03" y="432.29" width="4.6" height="1.8" fill="#F3A97E"/><rect x="727.46" y="445.01" width="4.6" height="1.8" fill="#F3A97E"/></g>
<g><rect x="174.92" y="478.93" width="8.6" height="1.8" fill="#B0B0B0"/><rect x="189.35" y="488.01" width="8.6" height="1.8" fill="#B0B0B0"/><rect x="203.78" y="476.5" width="8.6" height="1.8" fill="#B0B0B0"/><rect x="232.65" y="487.41" width="8.6" height="1.8" fill="#B0B0B0"/><rect x="247.08" y="489.83" width="8.6" height="1.8" fill="#B0B0B0"/><rect x="261.51" y="485.95" width="8.6" height="1.8" fill="#B0B0B0"/><rect x="275.95" y="486.19" width="8.6" height="1.8" fill="#B0B0B0"/><rect x="290.38" y="488.62" width="8.6" height="1.8" fill="#B0B0B0"/><rect x="304.81" y="446.22" width="8.6" height="1.8" fill="#B0B0B0"/><rect x="319.24" y="459.55" width="8.6" height="1.8" fill="#B0B0B0"/><rect x="333.68" y="477.72" width="8.6" height="1.8" fill="#B0B0B0"/><rect x="348.11" y="460.15" width="8.6" height="1.8" fill="#B0B0B0"/><rect x="362.54" y="481.35" width="8.6" height="1.8" fill="#B0B0B0"/><rect x="376.97" y="428.05" width="8.6" height="1.8" fill="#B0B0B0"/><rect x="391.41" y="253.99" width="8.6" height="1.8" fill="#B0B0B0"/><rect x="405.84" y="474.08" width="8.6" height="1.8" fill="#B0B0B0"/><rect x="420.27" y="483.77" width="8.6" height="1.8" fill="#B0B0B0"/><rect x="434.7" y="450.22" width="8.6" height="1.8" fill="#B0B0B0"/><rect x="449.14" y="435.32" width="8.6" height="1.8" fill="#B0B0B0"/><rect x="463.57" y="477.96" width="8.6" height="1.8" fill="#B0B0B0"/><rect x="478" y="468.03" width="8.6" height="1.8" fill="#B0B0B0"/><rect x="506.87" y="418.97" width="8.6" height="1.8" fill="#B0B0B0"/><rect x="521.3" y="485.59" width="8.6" height="1.8" fill="#B0B0B0"/><rect x="535.73" y="440.17" width="8.6" height="1.8" fill="#B0B0B0"/><rect x="550.17" y="482.92" width="8.6" height="1.8" fill="#B0B0B0"/><rect x="564.6" y="476.5" width="8.6" height="1.8" fill="#B0B0B0"/><rect x="593.46" y="465.6" width="8.6" height="1.8" fill="#B0B0B0"/><rect x="607.9" y="473.48" width="8.6" height="1.8" fill="#B0B0B0"/><rect x="622.33" y="483.77" width="8.6" height="1.8" fill="#B0B0B0"/><rect x="636.76" y="442.59" width="8.6" height="1.8" fill="#B0B0B0"/><rect x="651.2" y="468.63" width="8.6" height="1.8" fill="#B0B0B0"/><rect x="665.63" y="420.78" width="8.6" height="1.8" fill="#B0B0B0"/><rect x="680.06" y="432.29" width="8.6" height="1.8" fill="#B0B0B0"/><rect x="694.49" y="448.64" width="8.6" height="1.8" fill="#B0B0B0"/><rect x="708.93" y="447.68" width="8.6" height="1.8" fill="#B0B0B0"/><rect x="723.36" y="434.11" width="8.6" height="1.8" fill="#B0B0B0"/></g>
<g><path d="M179.22 470.58L183.62 474.98L179.22 479.38L174.82 474.98Z" fill="#FCCB82"/><path d="M193.65 470.58L198.05 474.98L193.65 479.38L189.25 474.98Z" fill="#FCCB82"/><path d="M208.08 473L212.48 477.4L208.08 481.8L203.68 477.4Z" fill="#FCCB82"/><path d="M222.51 430.61L226.91 435.01L222.51 439.41L218.11 435.01Z" fill="#FCCB82"/><path d="M236.95 462.1L241.35 466.5L236.95 470.9L232.55 466.5Z" fill="#FCCB82"/><path d="M251.38 480.88L255.78 485.28L251.38 489.68L246.98 485.28Z" fill="#FCCB82"/><path d="M265.81 467.19L270.21 471.59L265.81 475.99L261.41 471.59Z" fill="#FCCB82"/><path d="M280.25 461.13L284.65 465.53L280.25 469.93L275.85 465.53Z" fill="#FCCB82"/><path d="M294.68 478.58L299.08 482.98L294.68 487.38L290.28 482.98Z" fill="#FCCB82"/><path d="M309.11 457.26L313.51 461.66L309.11 466.06L304.71 461.66Z" fill="#FCCB82"/><path d="M323.54 463.31L327.94 467.71L323.54 472.11L319.14 467.71Z" fill="#FCCB82"/><path d="M337.98 476.64L342.38 481.04L337.98 485.44L333.58 481.04Z" fill="#FCCB82"/><path d="M352.41 469.37L356.81 473.77L352.41 478.17L348.01 473.77Z" fill="#FCCB82"/><path d="M366.84 485.12L371.24 489.52L366.84 493.92L362.44 489.52Z" fill="#FCCB82"/><path d="M381.27 458.47L385.67 462.87L381.27 467.27L376.87 462.87Z" fill="#FCCB82"/><path d="M395.71 224.81L400.11 229.21L395.71 233.61L391.31 229.21Z" fill="#FCCB82"/><path d="M410.14 485.48L414.54 489.88L410.14 494.28L405.74 489.88Z" fill="#FCCB82"/><path d="M424.57 433.03L428.97 437.43L424.57 441.83L420.17 437.43Z" fill="#FCCB82"/><path d="M439 439.45L443.4 443.85L439 448.25L434.6 443.85Z" fill="#FCCB82"/><path d="M453.44 399.12L457.84 403.52L453.44 407.92L449.04 403.52Z" fill="#FCCB82"/><path d="M467.87 464.53L472.27 468.93L467.87 473.33L463.47 468.93Z" fill="#FCCB82"/><path d="M482.3 485.72L486.7 490.12L482.3 494.52L477.9 490.12Z" fill="#FCCB82"/><path d="M496.74 485.72L501.14 490.12L496.74 494.52L492.34 490.12Z" fill="#FCCB82"/><path d="M511.17 424.92L515.57 429.32L511.17 433.72L506.77 429.32Z" fill="#FCCB82"/><path d="M525.6 439.45L530 443.85L525.6 448.25L521.2 443.85Z" fill="#FCCB82"/><path d="M540.03 463.92L544.43 468.32L540.03 472.72L535.63 468.32Z" fill="#FCCB82"/><path d="M554.47 414.86L558.87 419.26L554.47 423.66L550.07 419.26Z" fill="#FCCB82"/><path d="M568.9 433.64L573.3 438.04L568.9 442.44L564.5 438.04Z" fill="#FCCB82"/><path d="M583.33 420.92L587.73 425.32L583.33 429.72L578.93 425.32Z" fill="#FCCB82"/><path d="M597.76 472.52L602.16 476.92L597.76 481.32L593.36 476.92Z" fill="#FCCB82"/><path d="M612.2 454.83L616.6 459.23L612.2 463.63L607.8 459.23Z" fill="#FCCB82"/><path d="M626.63 459.92L631.03 464.32L626.63 468.72L622.23 464.32Z" fill="#FCCB82"/><path d="M641.06 433.03L645.46 437.43L641.06 441.83L636.66 437.43Z" fill="#FCCB82"/><path d="M655.5 443.57L659.9 447.97L655.5 452.37L651.1 447.97Z" fill="#FCCB82"/><path d="M669.93 422.37L674.33 426.77L669.93 431.17L665.53 426.77Z" fill="#FCCB82"/><path d="M684.36 406.38L688.76 410.78L684.36 415.18L679.96 410.78Z" fill="#FCCB82"/><path d="M698.79 422.74L703.19 427.14L698.79 431.54L694.39 427.14Z" fill="#FCCB82"/><path d="M713.23 438.12L717.63 442.52L713.23 446.92L708.83 442.52Z" fill="#FCCB82"/><path d="M727.66 417.28L732.06 421.68L727.66 426.08L723.26 421.68Z" fill="#FCCB82"/></g>
</g>
<g id="legend">
<path d="M926.7 242.8L931.1 247.2L926.7 251.6L922.3 247.2Z" fill="#3161B8"/><text class="leg" x="933.8" y="251.3" textLength="13.42" lengthAdjust="spacingAndGlyphs">CE</text>
<rect x="922.5" y="267.08" width="8.4" height="8.4" fill="#E0690F"/><text class="leg" x="933.8" y="275.38" textLength="13.03" lengthAdjust="spacingAndGlyphs">CF</text>
<path d="M926.7 290.91L931.15 299.81L922.25 299.81Z" fill="#909090"/><text class="leg" x="933.8" y="299.46" textLength="31.78" lengthAdjust="spacingAndGlyphs">WSR1</text>
<path d="M922.7 315.44L930.7 323.44M922.7 323.44L930.7 315.44" stroke="#E2B03A" stroke-width="1.1" fill="none"/><text class="leg" x="933.8" y="323.54" textLength="31.78" lengthAdjust="spacingAndGlyphs">WSR2</text>
<path d="M922.7 339.52L930.7 347.52M922.7 347.52L930.7 339.52" stroke="#4478BE" stroke-width="1.1" fill="none"/><path d="M926.7 339.52V347.52" stroke="#4478BE" stroke-width="0.8" fill="none"/><text class="leg" x="933.8" y="347.62" textLength="31.78" lengthAdjust="spacingAndGlyphs">WSR3</text>
<circle cx="926.7" cy="367.6" r="4.3" fill="#4F9A32"/><text class="leg" x="933.8" y="371.7" textLength="31.78" lengthAdjust="spacingAndGlyphs">WSR4</text>
<path d="M922.5 391.68L930.9 391.68M926.7 387.48L926.7 395.88" stroke="#A4B8E2" stroke-width="1.1" fill="none"/><text class="leg" x="933.8" y="395.78" textLength="38.54" lengthAdjust="spacingAndGlyphs">WSR16</text>
<rect x="926.5" y="414.86" width="4.6" height="1.8" fill="#F3A97E"/><text class="leg" x="933.8" y="419.86" textLength="38.54" lengthAdjust="spacingAndGlyphs">WSR33</text>
<rect x="922.4" y="438.94" width="8.6" height="1.8" fill="#B0B0B0"/><text class="leg" x="933.8" y="443.94" textLength="38.54" lengthAdjust="spacingAndGlyphs">WSR36</text>
<path d="M926.7 459.52L931.1 463.92L926.7 468.32L922.3 463.92Z" fill="#FCCB82"/><text class="leg" x="933.8" y="468.02" textLength="38.54" lengthAdjust="spacingAndGlyphs">WSR37</text>
</g>
</svg>
</body></html>
